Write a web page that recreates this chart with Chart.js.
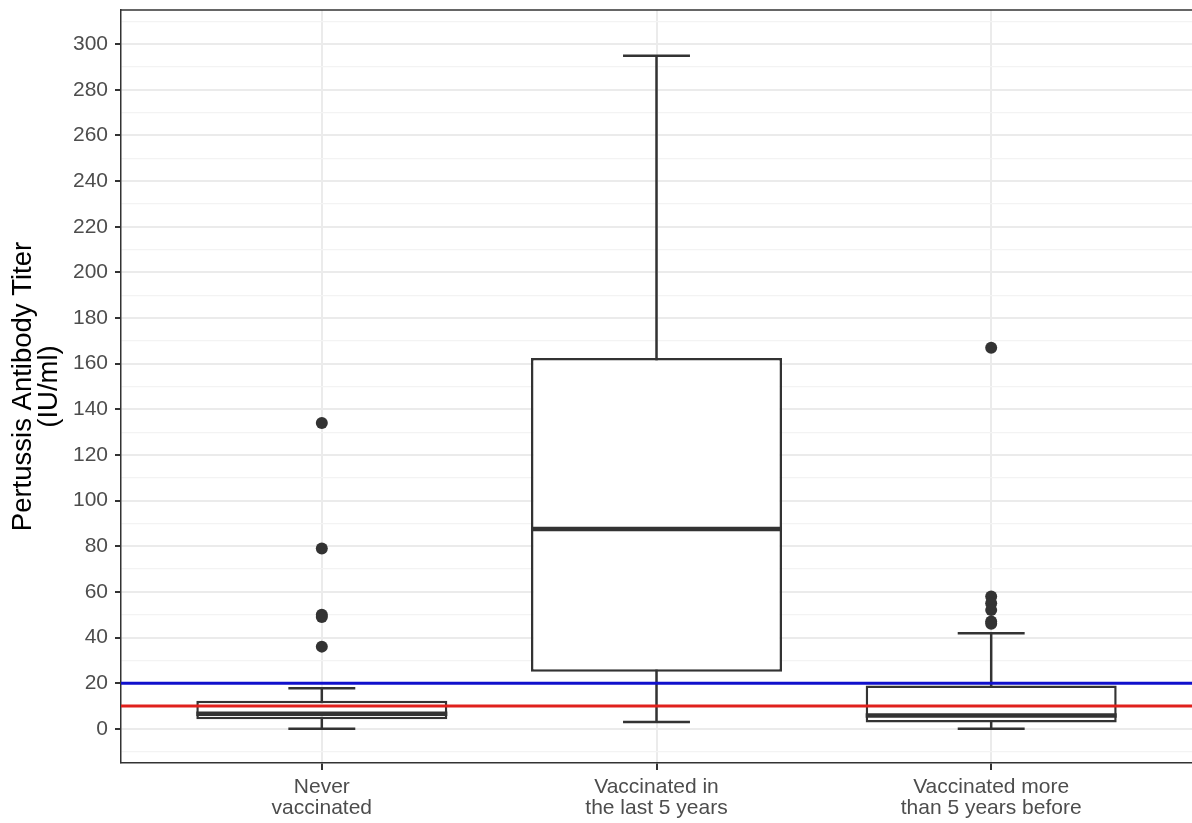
<!DOCTYPE html>
<html>
<head>
<meta charset="utf-8">
<script src="https://cdn.jsdelivr.net/npm/chart.js@4.4.1/dist/chart.umd.min.js"></script>
<style>
  html, body { margin: 0; padding: 0; background: #fff; overflow: hidden; }
  canvas { display: block; }
</style>
</head>
<body>
<canvas id="myChart" width="1192" height="823"></canvas>
<script>
// categorias (etiquetas del eje x, en dos lineas)
const categories = [
  ["Never", "vaccinated"],
  ["Vaccinated in", "the last 5 years"],
  ["Vaccinated more", "than 5 years before"],
];

// estadisticos de cada caja
const whiskerLow = [0, 3, 0];
const q1 = [4.2, 25, 2.8];
const median = [6.6, 87.5, 5.8];
const q3 = [12.3, 162.5, 19];
const whiskerHigh = [17.8, 295, 41.9];

// valores atipicos por grupo
const outliers = [
  [134, 79, 50, 49, 36],
  [],
  [167, 58, 55, 52, 47, 46],
];

// lineas de referencia
const refValues = [20, 10];
const refColors = ["#1010cc", "#e0201c"];

// ticks del eje y
const yTicks = [];
for (let v = -10; v <= 310; v += 10) yTicks.push(v);

const DARK = "#333333";
const BOX_W = 0.75;
const CAP_W = 0.2;

const datasets = [];

// lineas de referencia (arriba de todo)
refValues.forEach((v, i) => {
  datasets.push({
    type: "line",
    data: [{ x: 0.4, y: v }, { x: 3.6, y: v }],
    borderColor: refColors[i],
    borderWidth: 3,
    pointRadius: 0,
    order: 1,
  });
});

// puntos atipicos
const outlierPts = [];
outliers.forEach((arr, i) => arr.forEach((v) => outlierPts.push({ x: i + 1, y: v })));
datasets.push({
  type: "scatter",
  data: outlierPts,
  backgroundColor: DARK,
  borderWidth: 0,
  pointRadius: 6,
  order: 2,
});

// medianas
median.forEach((m, i) => {
  datasets.push({
    type: "line",
    data: [{ x: i + 1 - BOX_W / 2, y: m }, { x: i + 1 + BOX_W / 2, y: m }],
    borderColor: DARK,
    borderWidth: 4.5,
    pointRadius: 0,
    order: 3,
  });
});

// cajas (barras flotantes q1-q3)
datasets.push({
  type: "bar",
  data: q1.map((v, i) => ({ x: i + 1, y: [v, q3[i]] })),
  backgroundColor: "#ffffff",
  borderColor: DARK,
  borderWidth: 2.5,
  borderSkipped: false,
  barPercentage: BOX_W,
  categoryPercentage: 1,
  order: 4,
});

// bigotes y topes
whiskerLow.forEach((lo, i) => {
  const x = i + 1;
  datasets.push({
    type: "line",
    data: [{ x: x, y: lo }, { x: x, y: whiskerHigh[i] }],
    borderColor: DARK,
    borderWidth: 2.5,
    pointRadius: 0,
    order: 5,
  });
  [lo, whiskerHigh[i]].forEach((v) => {
    datasets.push({
      type: "line",
      data: [{ x: x - CAP_W / 2, y: v }, { x: x + CAP_W / 2, y: v }],
      borderColor: DARK,
      borderWidth: 2.5,
      pointRadius: 0,
      order: 5,
    });
  });
});

// borde superior del panel
const panelTop = {
  id: "panelTop",
  afterDatasetsDraw(chart) {
    const { ctx, chartArea } = chart;
    ctx.save();
    ctx.strokeStyle = DARK;
    ctx.lineWidth = 1.5;
    ctx.beginPath();
    ctx.moveTo(chartArea.left, chartArea.top);
    ctx.lineTo(chartArea.right + 2, chartArea.top);
    ctx.stroke();
    ctx.restore();
  },
};

new Chart(document.getElementById("myChart"), {
  type: "bar",
  data: { datasets: datasets },
  plugins: [panelTop],
  options: {
    responsive: false,
    animation: false,
    layout: { autoPadding: false, padding: { top: 10, right: 0, left: 0, bottom: 0 } },
    plugins: {
      legend: { display: false },
      tooltip: { enabled: false },
    },
    scales: {
      x: {
        type: "linear",
        min: 0.4,
        max: 3.6,
        offset: false,
        afterBuildTicks: (s) => {
          s.ticks = [{ value: 1 }, { value: 2 }, { value: 3 }];
        },
        afterFit: (s) => {
          s.height = 60;
          s.paddingLeft = 0;
          s.paddingRight = 0;
        },
        ticks: {
          color: "#4d4d4d",
          font: { family: "Liberation Sans, Arial, sans-serif", size: 21, lineHeight: 1.0 },
          padding: 7,
          maxRotation: 0,
          autoSkip: false,
          callback: (v) => categories[Math.round(v) - 1] || "",
        },
        grid: {
          offset: false,
          color: "#ebebeb",
          lineWidth: 2,
          tickColor: DARK,
          tickLength: 7,
        },
        border: { display: true, color: DARK, width: 1.5 },
      },
      y: {
        type: "linear",
        min: -15,
        max: 315,
        afterBuildTicks: (s) => {
          s.ticks = yTicks.map((v) => ({ value: v }));
        },
        afterFit: (s) => {
          s.width = 121;
          s.paddingTop = 0;
          s.paddingBottom = 0;
        },
        ticks: {
          color: "#4d4d4d",
          font: { family: "Liberation Sans, Arial, sans-serif", size: 21 },
          padding: 7,
          autoSkip: false,
          callback: (v) => (v % 20 === 0 && v >= 0 && v <= 300 ? String(v) : ""),
        },
        grid: {
          color: (c) => (c.tick && c.tick.value % 20 === 0 ? "#ebebeb" : "#f3f3f3"),
          lineWidth: (c) => (c.tick && c.tick.value % 20 === 0 ? 2 : 1.2),
          tickColor: (c) =>
            c.tick && c.tick.value % 20 === 0 && c.tick.value >= 0 ? DARK : "rgba(0,0,0,0)",
          tickLength: 6,
        },
        border: { display: true, color: DARK, width: 1.5 },
        title: {
          display: true,
          text: ["Pertussis Antibody Titer", "(IU/ml)"],
          color: "#000000",
          font: { family: "Liberation Sans, Arial, sans-serif", size: 27.5, lineHeight: 0.95 },
          padding: { top: 10, bottom: 0 },
        },
      },
    },
  },
});
</script>
</body>
</html>
